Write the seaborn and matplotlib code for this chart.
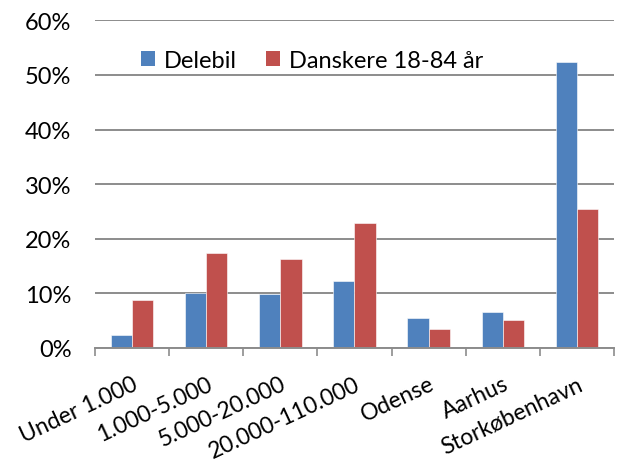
import matplotlib
matplotlib.use("Agg")
import matplotlib.pyplot as plt
import pandas as pd
import seaborn as sns
from matplotlib.ticker import PercentFormatter

sns.set_theme(style="white")
plt.rcParams['font.family'] = ['Lato', 'DejaVu Sans']
plt.rcParams['text.color'] = 'black'
plt.rcParams['xtick.color'] = 'black'
plt.rcParams['ytick.color'] = 'black'

categories = ['Under 1.000', '1.000-5.000', '5.000-20.000', '20.000-110.000',
              'Odense', 'Aarhus', 'Storkøbenhavn']
delebil = [2.4, 10.1, 9.9, 12.2, 5.5, 6.5, 52.4]
danskere = [8.85, 17.4, 16.2, 22.8, 3.5, 5.2, 25.5]
series = ['Delebil', 'Danskere 18-84 år']
colors = ['#4F81BD', '#C0504D']

df = pd.DataFrame({
    'kategori': categories * 2,
    'andel': delebil + danskere,
    'serie': [series[0]] * len(categories) + [series[1]] * len(categories),
})

fig = plt.figure(figsize=(6.17, 4.64), dpi=100)
ax = fig.add_axes([0.154, 0.248, 0.841, 0.706])

sns.barplot(data=df, x='kategori', y='andel', hue='serie', palette=colors,
            width=0.572, gap=0, saturation=1, ax=ax, errorbar=None)
for p in ax.patches:
    p.set_edgecolor('white')
    p.set_linewidth(0.4)

ax.set_ylim(0, 60)
ax.set_yticks(range(0, 61, 10))
ax.yaxis.set_major_formatter(PercentFormatter(decimals=0))
ax.set_xlim(-0.5, len(categories) - 0.5)
ax.grid(axis='y', color='#8C8C8C', linewidth=1.4)
ax.set_axisbelow(True)
for s in ['left', 'right', 'top']:
    ax.spines[s].set_visible(False)
ax.spines['bottom'].set_color('#8C8C8C')
ax.spines['bottom'].set_linewidth(1.4)

# ticks between the categories, like excel
ax.set_xticks([i - 0.5 for i in range(len(categories) + 1)], minor=True)
ax.tick_params(axis='x', which='minor', length=6, width=1.2, color='#8C8C8C', bottom=True)
ax.tick_params(axis='x', which='major', length=0, pad=18)
ax.tick_params(axis='y', length=0, pad=17, labelsize=17)
ax.set_xticks(range(len(categories)))
ax.set_xticklabels(categories, rotation=25, ha='right', rotation_mode='anchor', fontsize=16.5)
ax.set_xlabel('')
ax.set_ylabel('')

leg = ax.legend(loc='upper left', bbox_to_anchor=(0.047, 0.975), ncol=2, frameon=False,
                fontsize=17, handlelength=0.6, handleheight=0.6, handletextpad=0.4,
                columnspacing=1.2)
for h in leg.legend_handles:
    h.set_edgecolor('none')

fig.savefig('out.png', dpi=100)
